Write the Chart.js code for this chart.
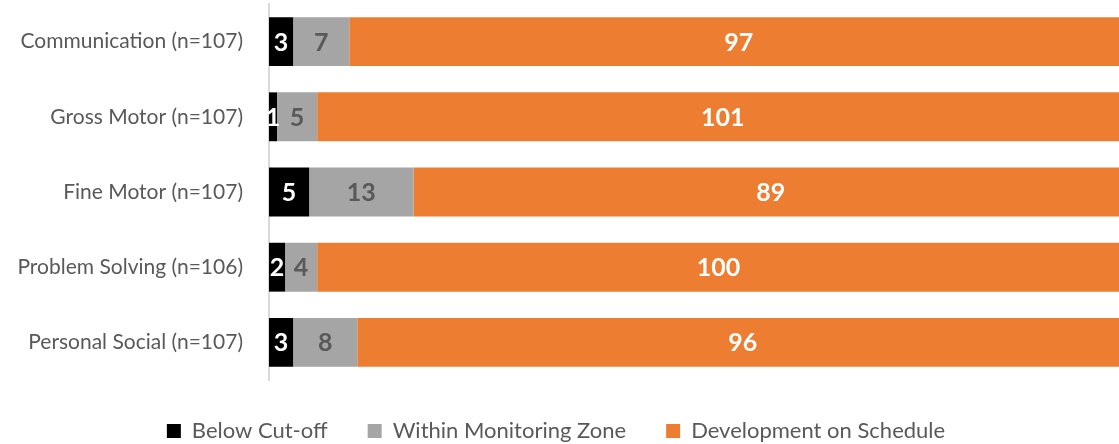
<!DOCTYPE html>
<html>
<head>
<meta charset="utf-8">
<script src="https://cdn.jsdelivr.net/npm/chart.js@4.4.1/dist/chart.umd.min.js"></script>
<style>
  html, body { margin: 0; padding: 0; background: #fff; overflow: hidden; }
  #wrap { width: 1130px; height: 444px; position: relative; }
</style>
</head>
<body>
<div id="wrap"><canvas id="chartAsq"></canvas></div>
<script>
// Dominios del ASQ y conteos por grupo
const categories = [
  "Communication (n=107)",
  "Gross Motor (n=107)",
  "Fine Motor (n=107)",
  "Problem Solving (n=106)",
  "Personal Social (n=107)",
];
const belowCutoff = [3, 1, 5, 2, 3];
const monitoringZone = [7, 5, 13, 4, 8];
const onSchedule = [97, 101, 89, 100, 96];

const seriesNames = ["Below Cut-off", "Within Monitoring Zone", "Development on Schedule"];

const FONT = "Lato, 'Open Sans', sans-serif";
const TEXT_GRAY = "#595959";

// Etiquetas de valor centradas en cada segmento
const segmentLabels = {
  id: "segmentLabels",
  afterDatasetsDraw(chart) {
    const ctx = chart.ctx;
    ctx.save();
    ctx.font = "bold 25px " + FONT;
    ctx.textAlign = "center";
    ctx.textBaseline = "middle";
    chart.data.datasets.forEach((ds, i) => {
      const meta = chart.getDatasetMeta(i);
      meta.data.forEach((bar, j) => {
        const cx = (bar.x + bar.base) / 2;
        ctx.fillStyle = ds.labelColor;
        ctx.fillText(String(ds.data[j]), cx, bar.y + 1);
      });
    });
    ctx.restore();
  },
};

function crearGrafico(ctx) {
  return new Chart(ctx, {
    type: "bar",
    data: {
      labels: categories,
      datasets: [
        { label: seriesNames[0], data: belowCutoff, backgroundColor: "#000000", labelColor: "#ffffff" },
        { label: seriesNames[1], data: monitoringZone, backgroundColor: "#a5a5a5", labelColor: "#595959" },
        { label: seriesNames[2], data: onSchedule, backgroundColor: "#ed7d31", labelColor: "#ffffff" },
      ],
    },
    options: {
      indexAxis: "y",
      responsive: true,
      maintainAspectRatio: false,
      animation: false,
      datasets: {
        // las barras pasan del borde derecho del área, sin recorte
        bar: { categoryPercentage: 1, barPercentage: 0.65, borderWidth: 0, clip: false },
      },
      layout: { padding: { top: 4, left: 8, right: 26, bottom: -8 } },
      scales: {
        x: { stacked: true, min: 0, max: 104, display: false },
        y: {
          stacked: true,
          grid: { display: false },
          border: { display: true, color: "#d9d9d9", width: 2 },
          ticks: { color: TEXT_GRAY, font: { family: FONT, size: 21 }, padding: 18 },
          afterFit(scale) {
            scale.width = 261;
            scale.paddingTop = 0;
            scale.paddingBottom = 0;
          },
        },
      },
      plugins: {
        legend: {
          position: "bottom",
          labels: {
            color: TEXT_GRAY,
            font: { family: FONT, size: 22 },
            boxWidth: 14,
            boxHeight: 14,
            padding: 40,
          },
        },
        tooltip: { enabled: false },
      },
    },
    plugins: [segmentLabels],
  });
}

document.addEventListener("DOMContentLoaded", () => {
  crearGrafico(document.getElementById("chartAsq").getContext("2d"));
});
</script>
</body>
</html>
